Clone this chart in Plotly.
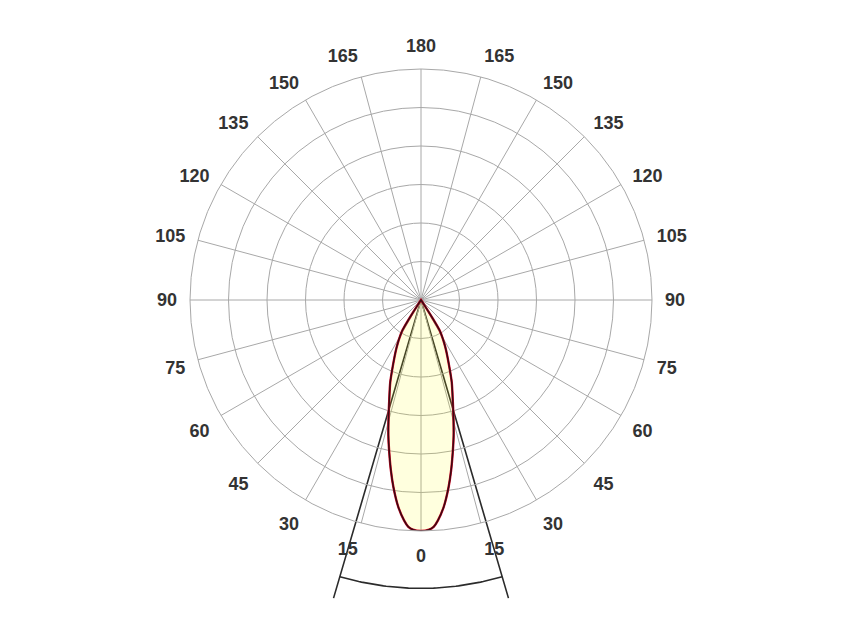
import plotly.graph_objects as go
import numpy as np

# ---- data ----
# half-lobe luminous intensity (arbitrary units, max = outer ring), symmetric about 0
lobe_angles = [0, 2, 3.2, 4.4, 6.3, 8.4, 10, 11.7, 13.5, 15.2, 17.6, 20.5, 23, 26.6, 28.5, 30, 31.5, 32.5, 33.5, 34.5, 90]
lobe_values = [600, 597, 590, 574, 540, 491, 450, 406, 363, 322, 273, 228, 188, 145, 125, 109, 93, 55, 15, 0, 0]
ring_values = [100, 200, 300, 400, 500, 600]
angle_ticks = list(range(0, 360, 15))
angle_labels = [str(a if a <= 180 else 360 - a) for a in angle_ticks]
beam_half_angle = 16.35
beam_line_radius = 807
beam_arc_radius = 749

# ---- layout constants ----
W, H = 844, 633
CX, CY, R = 421, 300, 231  # polar centre (px from top-left) and radius (px)
RMAX = ring_values[-1]
k = RMAX / R  # data units per pixel

theta = lobe_angles + [360 - a for a in reversed(lobe_angles[:-1])]
rvals = lobe_values + list(reversed(lobe_values[:-1]))

fig = go.Figure()

# beam-angle indicator on a hidden cartesian overlay (same scale as the polar plot)
ang = np.radians(beam_half_angle)
bx = [-beam_line_radius * np.sin(ang), 0, beam_line_radius * np.sin(ang)]
by = [-beam_line_radius * np.cos(ang), 0, -beam_line_radius * np.cos(ang)]
fig.add_trace(go.Scatter(x=bx, y=by, mode="lines",
                         line=dict(color="#2b2b2b", width=1.6),
                         hoverinfo="skip", showlegend=False))
arc_t = np.radians(np.linspace(-beam_half_angle, beam_half_angle, 60))
fig.add_trace(go.Scatter(x=beam_arc_radius * np.sin(arc_t), y=-beam_arc_radius * np.cos(arc_t),
                         mode="lines", line=dict(color="#2b2b2b", width=1.6),
                         hoverinfo="skip", showlegend=False))

# lobe
fig.add_trace(go.Scatterpolar(r=rvals, theta=theta, mode="lines", fill="toself",
                              fillcolor="rgba(255,255,0,0.13)",
                              line=dict(color="#d0102a", width=2.4, shape="spline", smoothing=0.7),
                              hoverinfo="skip", showlegend=False))
fig.add_trace(go.Scatterpolar(r=rvals, theta=theta, mode="lines",
                              line=dict(color="#3a0812", width=1.5, shape="spline", smoothing=0.7),
                              hoverinfo="skip", showlegend=False))

grid = "#a8a8a8"
fig.update_layout(
    width=W, height=H,
    margin=dict(l=0, r=0, t=0, b=0),
    paper_bgcolor="white", plot_bgcolor="rgba(0,0,0,0)",
    xaxis=dict(domain=[0, 1], range=[-CX * k, (W - CX) * k], visible=False, fixedrange=True),
    yaxis=dict(domain=[0, 1], range=[-(H - CY) * k, CY * k], visible=False, fixedrange=True),
    polar=dict(
        domain=dict(x=[(CX - R) / W, (CX + R) / W], y=[1 - (CY + R) / H, 1 - (CY - R) / H]),
        bgcolor="rgba(0,0,0,0)",
        radialaxis=dict(range=[0, RMAX], tickvals=ring_values, showticklabels=False,
                        ticks="", showline=False, gridcolor=grid, gridwidth=1),
        angularaxis=dict(rotation=-90, direction="counterclockwise",
                         tickmode="array", tickvals=angle_ticks, ticktext=angle_labels,
                         ticks="outside", ticklen=9, tickcolor="rgba(0,0,0,0)",
                         showline=True, linecolor=grid, linewidth=1,
                         gridcolor=grid, gridwidth=1,
                         tickfont=dict(family="Liberation Sans, Arial, sans-serif",
                                       size=18, color="#333333", weight="bold")),
    ),
)

fig.write_html("out.html")
